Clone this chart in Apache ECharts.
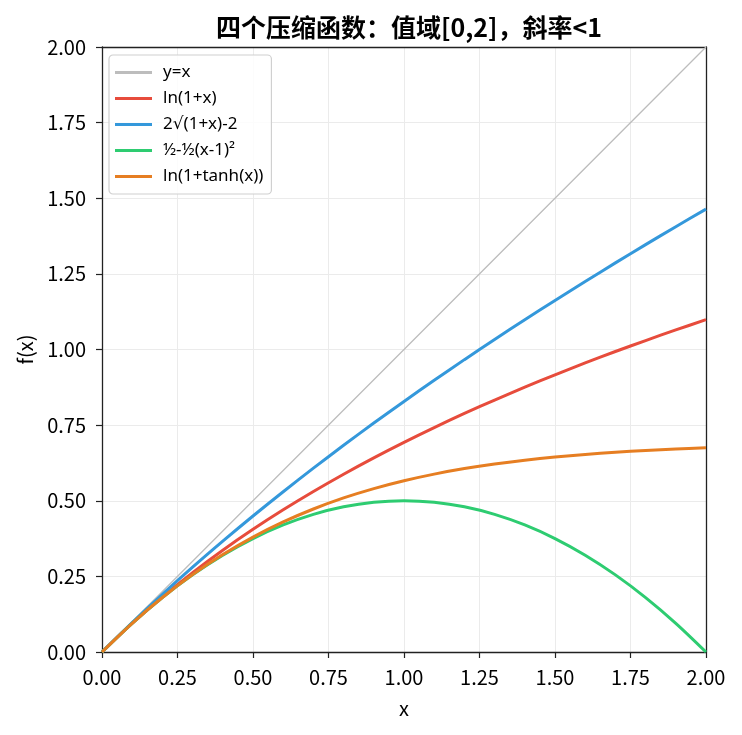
<!DOCTYPE html>
<html>
<head>
<meta charset="utf-8">
<script src="https://cdn.jsdelivr.net/npm/echarts@6/dist/echarts.min.js"></script>
<style>
    html, body { margin: 0; padding: 0; background: #fff; }
    #main { width: 742px; height: 735px; }
</style>
</head>
<body>
<div id="main"></div>
<script>
// x 采样点
var xs = [0, 0.1, 0.2, 0.3, 0.4, 0.5, 0.6, 0.7, 0.8, 0.9, 1.0,
    1.1, 1.2, 1.3, 1.4, 1.5, 1.6, 1.7, 1.8, 1.9, 2.0];
var identity = [0, 0.1, 0.2, 0.3, 0.4, 0.5, 0.6, 0.7, 0.8, 0.9, 1.0,
    1.1, 1.2, 1.3, 1.4, 1.5, 1.6, 1.7, 1.8, 1.9, 2.0];
var logVals = [0, 0.0953, 0.1823, 0.2624, 0.3365, 0.4055, 0.4700, 0.5306, 0.5878, 0.6419, 0.6931,
    0.7419, 0.7885, 0.8329, 0.8755, 0.9163, 0.9555, 0.9933, 1.0296, 1.0647, 1.0986];
var sqrtVals = [0, 0.0976, 0.1909, 0.2804, 0.3664, 0.4495, 0.5298, 0.6077, 0.6833, 0.7568, 0.8284,
    0.8983, 0.9665, 1.0332, 1.0984, 1.1623, 1.2249, 1.2863, 1.3466, 1.4059, 1.4641];
var quadVals = [0, 0.095, 0.18, 0.255, 0.32, 0.375, 0.42, 0.455, 0.48, 0.495, 0.5,
    0.495, 0.48, 0.455, 0.42, 0.375, 0.32, 0.255, 0.18, 0.095, 0];
var tanhVals = [0, 0.0950, 0.1801, 0.2557, 0.3220, 0.3799, 0.4299, 0.4727, 0.5093, 0.5402, 0.5662,
    0.5881, 0.6063, 0.6215, 0.6341, 0.6446, 0.6532, 0.6603, 0.6662, 0.6710, 0.6750];

var names = ['y=x', 'ln(1+x)', '2√(1+x)-2', '½-½(x-1)²', 'ln(1+tanh(x))'];
var colors = ['#bdbdbd', '#e74c3c', '#3498db', '#2ecc71', '#e67e22'];
var allVals = [identity, logVals, sqrtVals, quadVals, tanhVals];

var font = 'Noto Sans CJK SC';
var frameColor = '#222';

function pairs(vals) {
    var arr = [];
    for (var i = 0; i < xs.length; i++) {
        arr.push([xs[i], vals[i]]);
    }
    return arr;
}

var chart = echarts.init(document.getElementById('main'));

var axisCommon = {
    type: 'value',
    min: 0,
    max: 2,
    interval: 0.25,
    nameLocation: 'middle',
    nameTextStyle: { color: '#000', fontSize: 20, fontFamily: font },
    axisLine: { show: true, onZero: false, lineStyle: { color: frameColor, width: 1.3 } },
    axisTick: { show: true, length: 6, lineStyle: { color: frameColor, width: 1.2 } },
    axisLabel: {
        color: '#000', fontSize: 20, fontFamily: font,
        formatter: function (v) { return v.toFixed(2); }
    },
    splitLine: { show: true, lineStyle: { color: '#ebebeb', width: 1 } }
};

// 上/右边框
var frameAxis = {
    type: 'value',
    min: 0,
    max: 2,
    axisLine: { show: true, onZero: false, lineStyle: { color: frameColor, width: 1.3 } },
    axisTick: { show: false },
    axisLabel: { show: false },
    splitLine: { show: false }
};

var option = {
    backgroundColor: '#fff',
    animation: false,
    title: {
        text: '四个压缩函数：值域[0,2]，斜率<1',
        left: 404,
        top: 10,
        textAlign: 'center',
        textStyle: { fontSize: 25, fontWeight: 'bold', color: '#000', fontFamily: font }
    },
    grid: {
        left: 102, right: 36, top: 47, bottom: 83
    },
    legend: {
        orient: 'vertical',
        left: 109,
        top: 55,
        padding: [8, 8, 8, 6],
        itemGap: 7,
        itemWidth: 37,
        itemHeight: 3,
        icon: 'rect',
        backgroundColor: 'rgba(255,255,255,0.85)',
        borderColor: '#d0d0d0',
        borderWidth: 1.2,
        borderRadius: 4,
        data: names,
        textStyle: {
            fontSize: 17, color: '#000', fontFamily: "'Noto Sans', 'DejaVu Sans', 'Noto Sans CJK SC'",
            padding: [0, 0, 0, 6], lineHeight: 19
        }
    },
    xAxis: [
        Object.assign({}, axisCommon, { name: 'x', nameGap: 46, axisLabel: Object.assign({}, axisCommon.axisLabel, { margin: 15 }) }),
        Object.assign({}, frameAxis, { position: 'top' })
    ],
    yAxis: [
        Object.assign({}, axisCommon, { name: 'f(x)', nameGap: 67, axisLabel: Object.assign({}, axisCommon.axisLabel, { margin: 16 }) }),
        Object.assign({}, frameAxis, { position: 'right' })
    ],
    series: (function () {
        var arr = [];
        for (var i = 0; i < names.length; i++) {
            arr.push({
                name: names[i],
                type: 'line',
                data: pairs(allVals[i]),
                smooth: i === 0 ? false : 0.3,
                symbol: 'none',
                z: i === 0 ? 1 : 2 + i,
                lineStyle: { color: colors[i], width: i === 0 ? 1.3 : 3 },
                itemStyle: { color: colors[i] }
            });
        }
        return arr;
    })()
};

chart.setOption(option, true);
</script>
</body>
</html>
